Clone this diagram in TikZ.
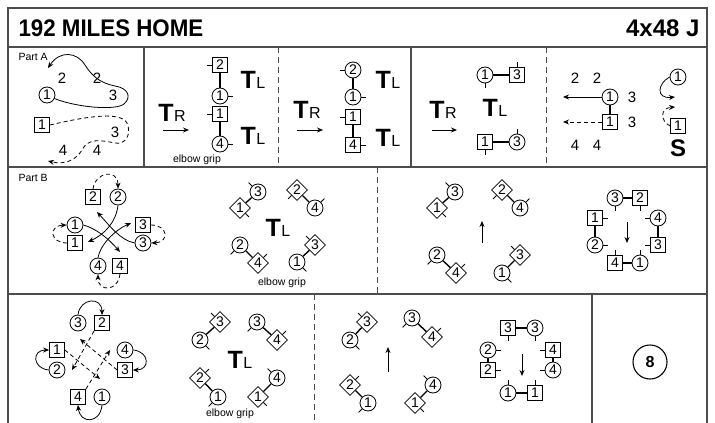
\documentclass[tikz,border=0pt]{standalone}
\usepackage{fontspec}
\setmainfont{Liberation Sans}
\usetikzlibrary{shapes.geometric,arrows.meta}
\newcommand{\Tsub}[1]{{\fontsize{25}{25}\selectfont\bfseries T}\kern0.5pt{\fontsize{16}{16}\selectfont #1}}
\newcommand{\tk}[2]{\draw[tick] (#1) -- ++(#2);}
\begin{document}
\begin{tikzpicture}[x=1pt,y=-1pt,
  cir/.style={circle,draw,line width=0.8pt,inner sep=0pt,minimum size=16pt,font=\fontsize{14}{14}\selectfont},
  sq/.style={rectangle,draw,line width=0.8pt,inner sep=0pt,minimum size=15pt,font=\fontsize{14}{14}\selectfont},
  dia/.style={diamond,draw,line width=0.8pt,inner sep=0pt,minimum size=21pt,font=\fontsize{14}{14}\selectfont},
  lbl/.style={font=\fontsize{15}{15}\selectfont},
  small/.style={font=\fontsize{10.5}{10.5}\selectfont},
  frame/.style={draw=black!70,line width=1.3pt},
  ddiv/.style={draw=black!70,line width=1pt,dash pattern=on 6pt off 4pt},
  tick/.style={line width=0.8pt},
  pair/.style={line width=1.4pt},
  arr/.style={-{Stealth[length=6pt,width=5pt]},line width=0.8pt},
  darr/.style={arr,dash pattern=on 4pt off 3pt},
]
\useasboundingbox (0,0) rectangle (715,423);
% frame
\draw[frame] (8,426) -- (8,8) -- (707,8) -- (707,426);
\draw[frame] (8,47) -- (707,47);
\draw[frame] (8,167) -- (707,167);
\draw[frame] (8,294) -- (707,294);
\draw[frame] (144,47) -- (144,167);
\draw[frame] (411,47) -- (411,167);
\draw[ddiv] (278,47) -- (278,167);
\draw[ddiv] (546,47) -- (546,167);
\draw[ddiv] (377,167) -- (377,294);
\draw[ddiv] (314,294) -- (314,426);
\draw[frame] (592,294) -- (592,426);
% title
\node[anchor=west,font=\fontsize{24}{24}\selectfont\bfseries] (title) at (15,28) {\scalebox{0.93}[1]{192 MILES HOME}};
\node[anchor=east,font=\fontsize{24}{24}\selectfont\bfseries] (form) at (703,28) {4x48 J};

% ---------- Part A panel 1
\node[small,anchor=west] (partA) at (15,57) {Part A};
\node[cir] (a1c) at (47,95) {1};
\node[sq] (a1s) at (42,125) {1};
\node[lbl] (n1) at (62,78) {2};
\node[lbl] (n2) at (97,78) {2};
\node[lbl] (n3) at (113,95) {3};
\node[lbl] (n4) at (115,132) {3};
\node[lbl] (n5) at (63,150) {4};
\node[lbl] (n6) at (97,150) {4};
\coordinate (a1t) at (48,68);
\coordinate (a1u) at (48,161);
\draw[arr] (a1c.-25) .. controls (75,107) and (115,111) .. (124,104)
  .. controls (132,97) and (128,88) .. (115,86)
  .. controls (100,83) and (92,76) .. (85,65)
  .. controls (77,52) and (60,50) .. (a1t);
\draw[darr] (a1s.east) .. controls (80,118) and (120,110) .. (127,123)
  .. controls (132,135) and (125,145) .. (115,143)
  .. controls (100,140) and (88,138) .. (82,150)
  .. controls (76,160) and (65,165) .. (a1u);

% ---------- Part A panel 2
\node[sq] (p2a) at (220,65) {2};
\node[cir] (p2b) at (220,96) {1};
\node[sq] (p2c) at (220,114) {1};
\node[cir] (p2d) at (220,144) {4};
\draw[pair] (p2a) -- (p2b);
\draw[pair] (p2c) -- (p2d);
\tk{p2a.west}{-5,0}
\tk{p2b.east}{5,0}
\tk{p2c.west}{-5,0}
\tk{p2d.east}{5,0}
\node (tl1) at (253,80) {\Tsub{L}};
\node (tl2) at (253,136) {\Tsub{L}};
\node (tr1) at (172,113) {\Tsub{R}};
\coordinate (ar1a) at (163,130);
\coordinate (ar1b) at (189,130);
\draw[arr] (ar1a) -- (ar1b);
\node[small] (eg1) at (197,160) {elbow grip};

% ---------- Part A panel 3
\node[cir] (p3a) at (353,70) {2};
\node[cir] (p3b) at (353,97) {1};
\node[sq] (p3c) at (353,117) {1};
\node[sq] (p3d) at (353,145) {4};
\draw[pair] (p3a) -- (p3b);
\draw[pair] (p3c) -- (p3d);
\tk{p3a.west}{-5,0}
\tk{p3b.east}{5,0}
\tk{p3c.west}{-5,0}
\tk{p3d.east}{5,0}
\node (tl3) at (388,80) {\Tsub{L}};
\node (tl4) at (388,138) {\Tsub{L}};
\node (tr2) at (307,110) {\Tsub{R}};
\coordinate (ar2a) at (297,130);
\coordinate (ar2b) at (323,130);
\draw[arr] (ar2a) -- (ar2b);

% ---------- Part A panel 4
\node[cir] (p4a) at (485,75) {1};
\node[sq] (p4b) at (517,75) {3};
\node[sq] (p4c) at (485,142) {1};
\node[cir] (p4d) at (517,142) {3};
\draw[pair] (p4a) -- (p4b);
\draw[pair] (p4c) -- (p4d);
\tk{p4a.south}{0,5}
\tk{p4b.north}{0,-5}
\tk{p4c.south}{0,5}
\tk{p4d.north}{0,-5}
\node (tl5) at (495,108) {\Tsub{L}};
\node (tr3) at (443,110) {\Tsub{R}};
\coordinate (ar3a) at (432,130);
\coordinate (ar3b) at (457,130);
\draw[arr] (ar3a) -- (ar3b);

% ---------- Part A panel 5
\node[lbl] (m1) at (575,78) {2};
\node[lbl] (m2) at (597,78) {2};
\node[lbl] (m3) at (632,97) {3};
\node[lbl] (m4) at (632,122) {3};
\node[lbl] (m5) at (575,145) {4};
\node[lbl] (m6) at (597,145) {4};
\node[cir] (p5a) at (610,97) {1};
\node[sq] (p5b) at (610,122) {1};
\draw[pair] (p5a) -- (p5b);
\coordinate (p5e) at (563,97);
\coordinate (p5f) at (563,122);
\draw[arr] (p5a.west) -- (p5e);
\draw[darr] (p5b.west) -- (p5f);
\node[cir] (p5c) at (678,77) {1};
\node[sq] (p5d) at (678,126) {1};
\coordinate (p5g) at (675,97);
\coordinate (p5h) at (675,107);
\draw[arr] (p5c.west) .. controls (658,83) and (655,99) .. (p5g);
\draw[darr] (p5d.west) .. controls (660,121) and (660,108) .. (p5h);
\node[font=\fontsize{24}{24}\selectfont\bfseries] (S) at (678,148) {S};

% ---------- Part B panel 1
\node[small,anchor=west] (partB) at (15,178) {Part B};
\node[sq] (q2s) at (93,197) {2};
\node[cir] (q2c) at (118,197) {2};
\node[cir] (q1c) at (75,225) {1};
\node[sq] (q1s) at (75,243) {1};
\node[sq] (q3s) at (143,225) {3};
\node[cir] (q3c) at (143,243) {3};
\node[cir] (q4c) at (98,266) {4};
\node[sq] (q4s) at (120,266) {4};
\draw[darr] (q2s.north) .. controls (95,172) and (118,168) .. (q2c.north);
\draw[darr] (q1s.west) .. controls (50,243) and (48,226) .. (q1c.west);
\draw[darr] (q3s.east) .. controls (168,225) and (170,242) .. (q3c.east);
\draw[darr] (q4s.south) .. controls (118,292) and (98,292) .. (q4c.south);
\coordinate (qa) at (88,242);
\coordinate (qb) at (97,212);
\coordinate (qc) at (120,252);
\coordinate (qd) at (131,223);
\draw[arr] (q2c.south) .. controls (116,222) and (105,234) .. (qa);
\draw[arr] (q3c.west) .. controls (120,240) and (110,226) .. (qb);
\draw[arr] (q1c.east) .. controls (95,228) and (108,238) .. (qc);
\draw[arr] (q4c.north) .. controls (100,245) and (115,230) .. (qd);

% ---------- Part B panel 2
\node[cir] (r1) at (258,192) {3};
\node[dia] (r2) at (240,208) {1};
\node[dia] (r3) at (297,190) {2};
\node[cir] (r4) at (315,208) {4};
\node[cir] (r5) at (240,245) {2};
\node[dia] (r6) at (258,263) {4};
\node[dia] (r7) at (315,245) {3};
\node[cir] (r8) at (297,262) {1};
\draw[pair] (r1) -- (r2);
\draw[pair] (r3) -- (r4);
\draw[pair] (r5) -- (r6);
\draw[pair] (r7) -- (r8);
\tk{r1.north west}{-3.5,-3.5}
\tk{r2.south east}{3.5,3.5}
\tk{r3.south west}{-3.5,3.5}
\tk{r4.north east}{3.5,-3.5}
\tk{r5.south west}{-3.5,3.5}
\tk{r6.north east}{3.5,-3.5}
\tk{r7.north west}{-3.5,-3.5}
\tk{r8.south east}{3.5,3.5}
\node (tl6) at (278,228) {\Tsub{L}};
\node[small] (eg2) at (282,283) {elbow grip};

% ---------- Part B panel 3
\node[cir] (s1) at (455,192) {3};
\node[dia] (s2) at (437,208) {1};
\node[dia] (s3) at (502,190) {2};
\node[cir] (s4) at (520,208) {4};
\node[cir] (s5) at (437,255) {2};
\node[dia] (s6) at (456,273) {4};
\node[dia] (s7) at (520,255) {3};
\node[cir] (s8) at (502,273) {1};
\draw[pair] (s1) -- (s2);
\draw[pair] (s3) -- (s4);
\draw[pair] (s5) -- (s6);
\draw[pair] (s7) -- (s8);
\tk{s1.north west}{-3.5,-3.5}
\tk{s2.south east}{3.5,3.5}
\tk{s3.south west}{-3.5,3.5}
\tk{s4.north east}{3.5,-3.5}
\tk{s5.south west}{-3.5,3.5}
\tk{s6.north east}{3.5,-3.5}
\tk{s7.north west}{-3.5,-3.5}
\tk{s8.south east}{3.5,3.5}
\coordinate (sa) at (482,243);
\coordinate (sb) at (482,221);
\draw[arr] (sa) -- (sb);

% ---------- Part B panel 4
\node[cir] (t1) at (615,198) {3};
\node[sq] (t2) at (640,198) {2};
\node[sq] (t3) at (595,218) {1};
\node[cir] (t4) at (595,245) {2};
\node[cir] (t5) at (658,218) {4};
\node[sq] (t6) at (658,245) {3};
\node[sq] (t7) at (615,263) {4};
\node[cir] (t8) at (640,263) {1};
\draw[pair] (t1) -- (t2);
\draw[pair] (t3) -- (t4);
\draw[pair] (t5) -- (t6);
\draw[pair] (t7) -- (t8);
\tk{t1.south}{0,5}
\tk{t2.south}{0,5}
\tk{t3.east}{5,0}
\tk{t4.east}{5,0}
\tk{t5.west}{-5,0}
\tk{t6.west}{-5,0}
\tk{t7.north}{0,-5}
\tk{t8.north}{0,-5}
\coordinate (ta) at (627,222);
\coordinate (tb) at (627,243);
\draw[arr] (ta) -- (tb);

% ---------- Part C panel 1
\node[cir] (u3c) at (78,323) {3};
\node[sq] (u2s) at (102,323) {2};
\node[sq] (u1s) at (57,350) {1};
\node[cir] (u2c) at (57,370) {2};
\node[cir] (u4c) at (125,350) {4};
\node[sq] (u3s) at (125,370) {3};
\node[sq] (u4s) at (78,397) {4};
\node[cir] (u1c) at (102,397) {1};
\draw[arr] (u3c.north) .. controls (80,298) and (102,296) .. (u2s.north);
\draw[arr] (u2c.west) .. controls (32,368) and (32,350) .. (u1s.west);
\draw[arr] (u4c.east) .. controls (150,352) and (150,370) .. (u3s.east);
\draw[arr] (u1c.south) .. controls (100,424) and (80,424) .. (u4s.south);
\coordinate (ua) at (72,370);
\coordinate (ub) at (100,379);
\coordinate (uc) at (80,339);
\coordinate (ud) at (110,350);
\draw[darr] (u2s.south west) -- (ua);
\draw[darr] (u1s.east) -- (ub);
\draw[darr] (u3s.west) -- (uc);
\draw[darr] (u4s.north east) -- (ud);

% ---------- Part C panel 2
\node[dia] (v1) at (220,322) {3};
\node[cir] (v2) at (200,340) {2};
\node[cir] (v3) at (257,322) {3};
\node[dia] (v4) at (277,340) {4};
\node[dia] (v5) at (200,378) {2};
\node[cir] (v6) at (218,397) {1};
\node[cir] (v7) at (277,378) {4};
\node[dia] (v8) at (258,397) {1};
\draw[pair] (v1) -- (v2);
\draw[pair] (v3) -- (v4);
\draw[pair] (v5) -- (v6);
\draw[pair] (v7) -- (v8);
\tk{v1.north west}{-3.5,-3.5}
\tk{v2.south east}{3.5,3.5}
\tk{v3.south west}{-3.5,3.5}
\tk{v4.north east}{3.5,-3.5}
\tk{v5.north east}{3.5,-3.5}
\tk{v6.south west}{-3.5,3.5}
\tk{v7.north west}{-3.5,-3.5}
\tk{v8.south east}{3.5,3.5}
\node (tl7) at (240,360) {\Tsub{L}};
\node[small] (eg3) at (230,414) {elbow grip};

% ---------- Part C panel 3
\node[dia] (w1) at (367,322) {3};
\node[cir] (w2) at (350,340) {2};
\node[cir] (w3) at (412,318) {3};
\node[dia] (w4) at (432,337) {4};
\node[dia] (w5) at (350,385) {2};
\node[cir] (w6) at (368,403) {1};
\node[cir] (w7) at (433,385) {4};
\node[dia] (w8) at (415,403) {1};
\draw[pair] (w1) -- (w2);
\draw[pair] (w3) -- (w4);
\draw[pair] (w5) -- (w6);
\draw[pair] (w7) -- (w8);
\tk{w1.north west}{-3.5,-3.5}
\tk{w2.south east}{3.5,3.5}
\tk{w3.south west}{-3.5,3.5}
\tk{w4.north east}{3.5,-3.5}
\tk{w5.north east}{3.5,-3.5}
\tk{w6.south west}{-3.5,3.5}
\tk{w7.north west}{-3.5,-3.5}
\tk{w8.south east}{3.5,3.5}
\coordinate (wa) at (388,372);
\coordinate (wb) at (388,347);
\draw[arr] (wa) -- (wb);

% ---------- Part C panel 4
\node[sq] (x1) at (508,328) {3};
\node[cir] (x2) at (535,328) {3};
\node[cir] (x3) at (488,350) {2};
\node[sq] (x4) at (488,370) {2};
\node[sq] (x5) at (553,350) {4};
\node[cir] (x6) at (553,370) {4};
\node[cir] (x7) at (508,393) {1};
\node[sq] (x8) at (535,393) {1};
\draw[pair] (x1) -- (x2);
\draw[pair] (x3) -- (x4);
\draw[pair] (x5) -- (x6);
\draw[pair] (x7) -- (x8);
\tk{x1.south}{0,5}
\tk{x2.south}{0,5}
\tk{x3.east}{5,0}
\tk{x4.east}{5,0}
\tk{x5.west}{-5,0}
\tk{x6.west}{-5,0}
\tk{x7.north}{0,-5}
\tk{x8.north}{0,-5}
\coordinate (xa) at (522,354);
\coordinate (xb) at (522,376);
\draw[arr] (xa) -- (xb);

% ---------- Part C panel 5
\node[circle,draw,line width=1.1pt,minimum size=34pt,inner sep=0pt,font=\fontsize{16}{16}\selectfont\bfseries] (bars) at (650,362) {8};
\end{tikzpicture}
\end{document}
